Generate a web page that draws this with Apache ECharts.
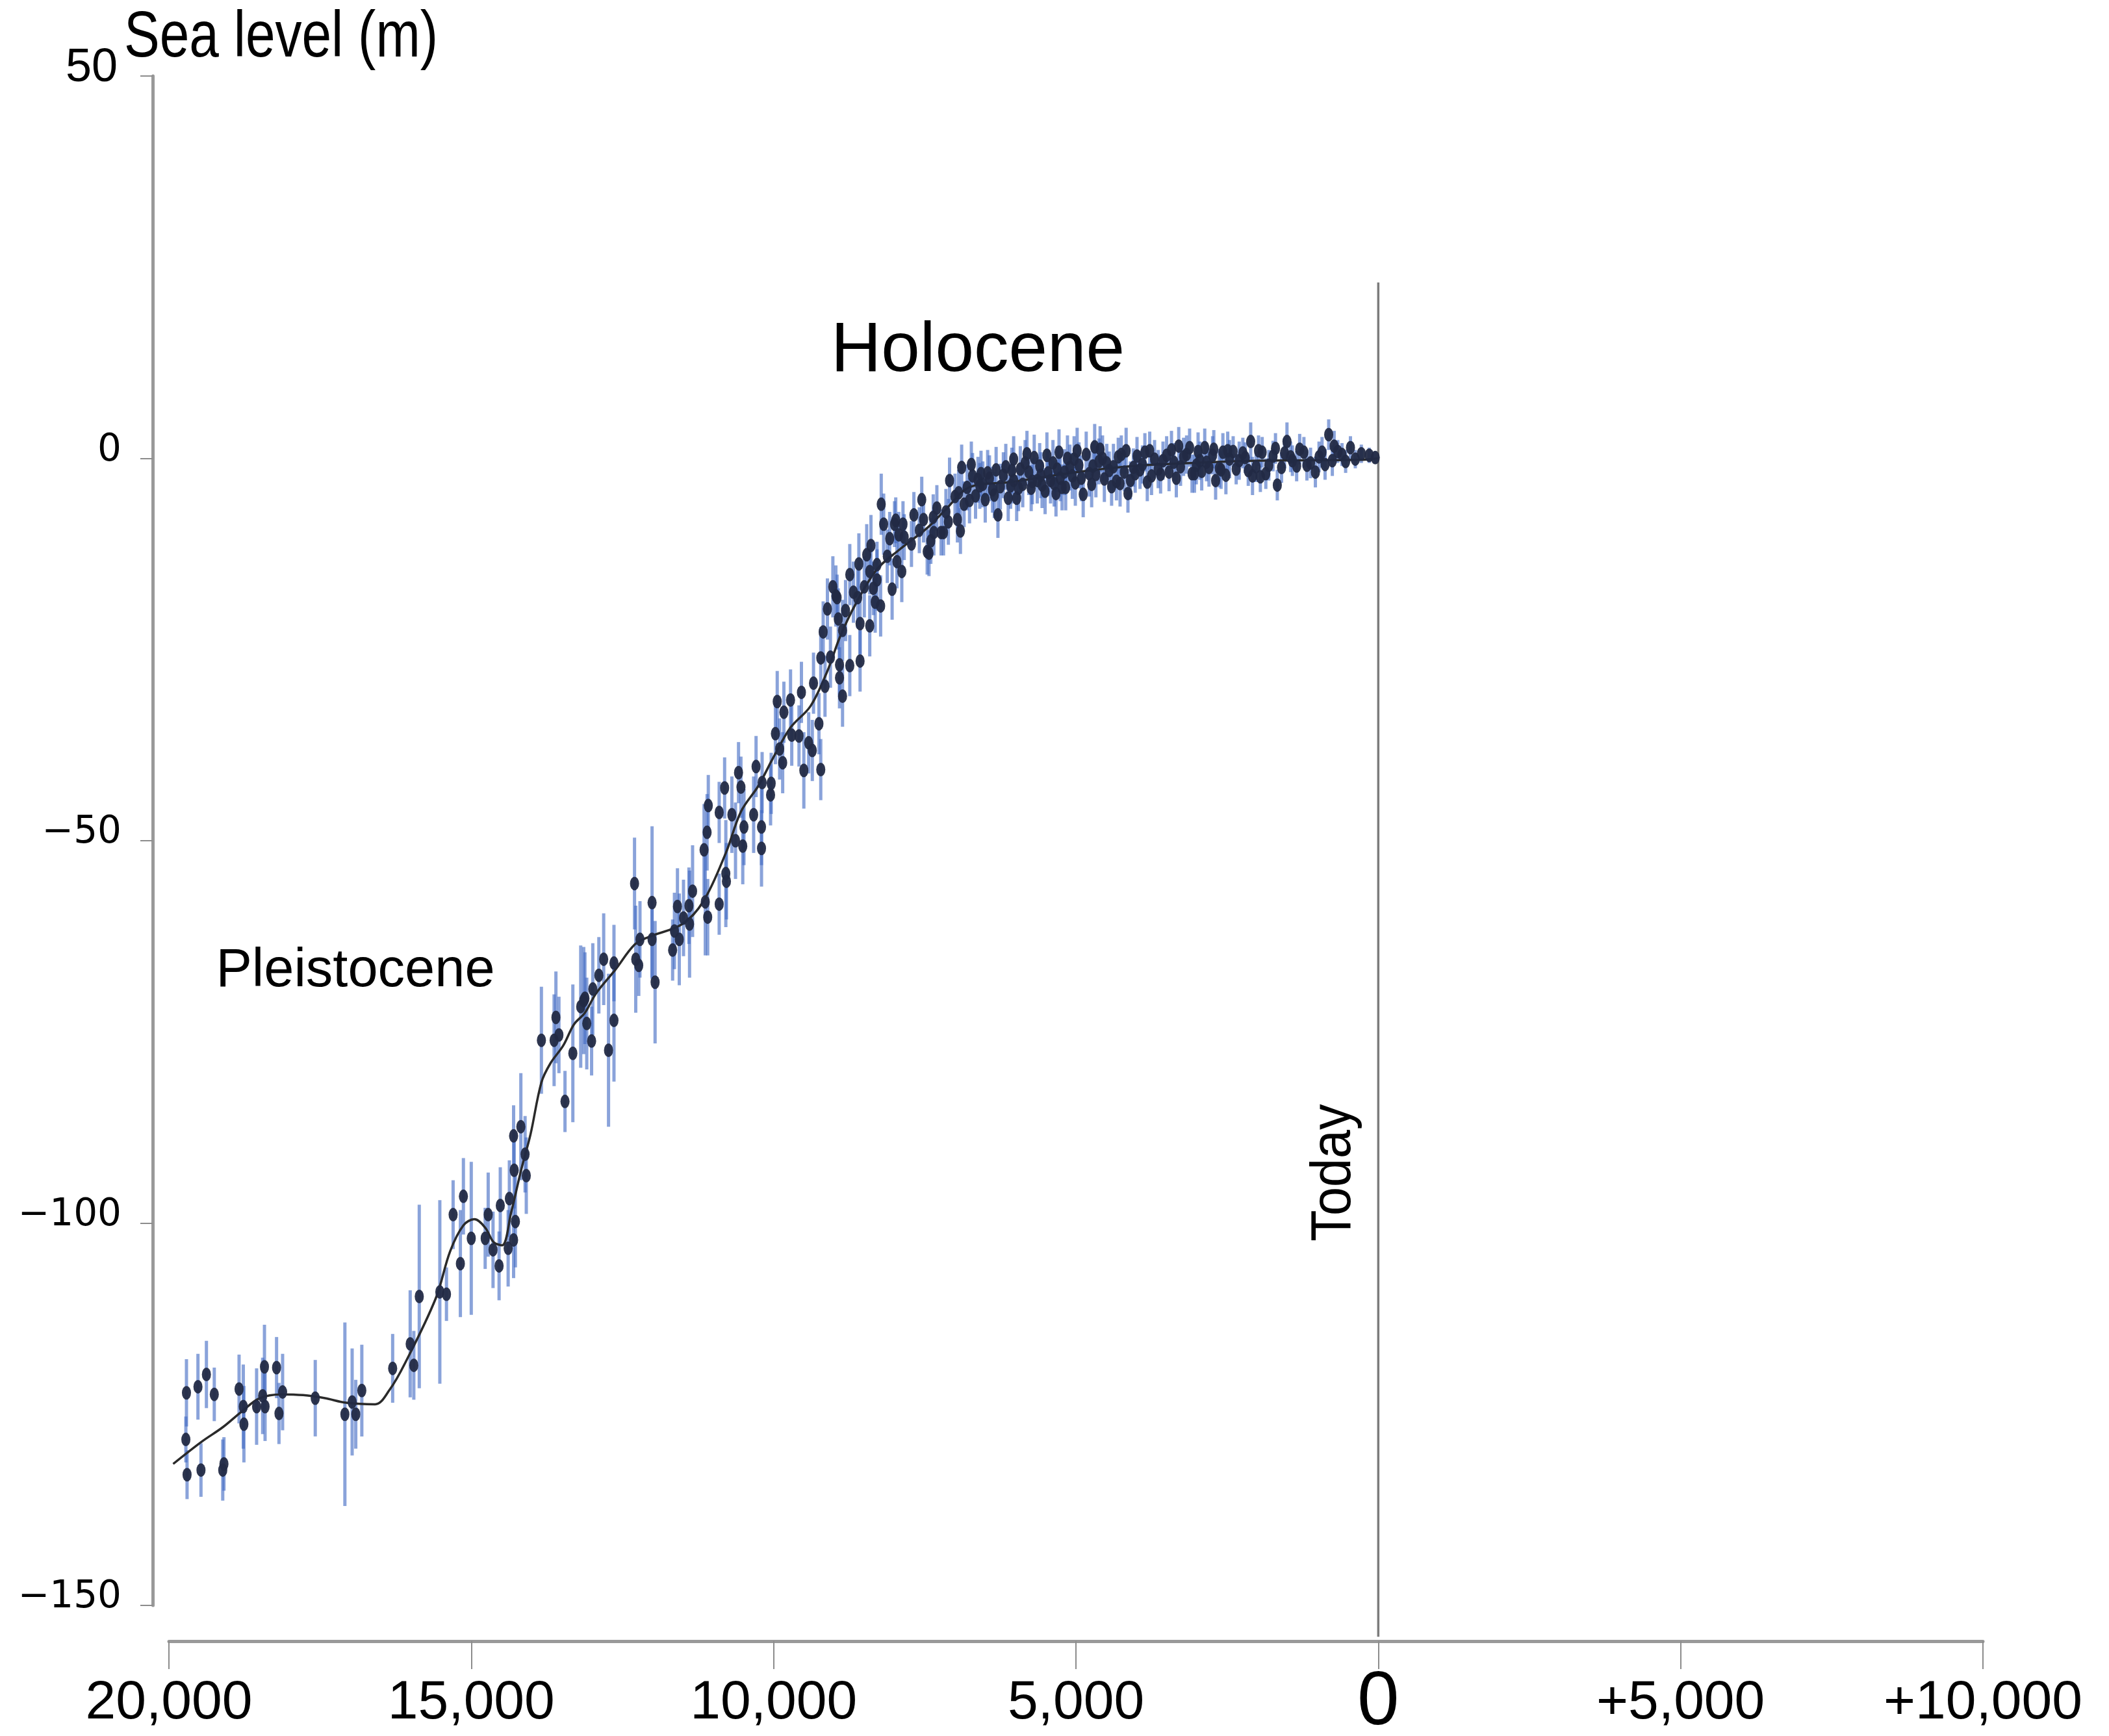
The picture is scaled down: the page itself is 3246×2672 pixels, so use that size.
<!DOCTYPE html>
<html>
<head>
<meta charset="utf-8">
<title>Sea level since the last glacial maximum</title>
<script src="https://cdn.jsdelivr.net/npm/echarts@6/dist/echarts.min.js"></script>
<style>
  html, body { margin: 0; padding: 0; background: #fff; }
  #chart { width: 3246px; height: 2672px; }
</style>
</head>
<body>
<div id="chart"></div>
<script>
// sample ages (years before present), sea level (m) and half error bar (m)
const ages = [
  19720, 19710, 19700, 19520, 19470, 19380, 19250, 19110, 19090, 18840,
  18770, 18760, 18550, 18450, 18420, 18410, 18220, 18180, 18120, 17580,
  17090, 16970, 16910, 16810, 16300, 16010, 15950, 15860, 15520, 15410,
  15300, 15180, 15130, 15000, 14770, 14720, 14640, 14540, 14520, 14390,
  14370, 14300, 14300, 14290, 14270, 14180, 14110, 14090, 13840, 13630,
  13600, 13550, 13450, 13320, 13190, 13140, 13120, 13090, 13010, 12990,
  12890, 12810, 12730, 12640, 12640, 12300, 12280, 12230, 12210, 12010,
  12010, 11960, 11670, 11640, 11590, 11560, 11490, 11400, 11390, 11340,
  11150, 11130, 11100, 11090, 11080, 10900, 10900, 10810, 10790, 10780,
  10690, 10630, 10580, 10540, 10510, 10490, 10330, 10290, 10200, 10200,
  10190, 10050, 10040, 9970, 9940, 9900, 9850, 9830, 9720, 9700,
  9580, 9540, 9500, 9420, 9360, 9340, 9250, 9220, 9220, 9180,
  9150, 9110, 9060, 9020, 8970, 8950, 8930, 8910, 8910, 8860,
  8810, 8740, 8740, 8610, 8590, 8570, 8570, 8500, 8410, 8410,
  8390, 8320, 8290, 8290, 8230, 8220, 8180, 8040, 8000, 7980,
  7930, 7880, 7860, 7840, 7590, 7550, 7460, 7430, 7360, 7350,
  7230, 7190, 7110, 7090, 6910, 6890, 6850, 6710, 6660, 6570,
  6500, 6430, 6320, 6290, 6250, 6120, 6030, 6030, 5980, 5920,
  5780, 5690, 5640, 5510, 5420, 5330, 5310, 5190, 5140, 5030,
  5010, 4880, 4830, 4690, 4670, 4560, 4490, 4410, 4250, 4140,
  4050, 3860, 3750, 3560, 3420, 3340, 3170, 3120, 3010, 2870,
  2800, 2690, 2570, 2460, 2300, 2110, 2080, 1920, 1810, 1670,
  1510, 1420, 1230, 1040, 930, 820, 730, 600, 460, 380,
  150, 50,
  // denser Holocene band
  8860, 8680, 8460, 8350, 8120, 8080, 7960, 7720, 7680, 7520,
  7400, 7300, 7150, 7000, 6960, 6800, 6760, 6620, 6540, 6460,
  6380, 6200, 6160, 6080, 5880, 5840, 5740, 5600, 5560, 5460,
  5380, 5260, 5230, 5100, 5060, 4950, 4780, 4740, 4620, 4530,
  4450, 4330, 4300, 4200, 4100, 3990, 3940, 3820, 3700, 3640,
  3500, 3460, 3270, 3220, 3080, 2950, 2920, 2740, 2630, 2520,
  2400, 2350, 2200, 2020, 1980, 1860, 1740, 1600, 1550, 1350,
  1300, 1120, 980, 880, 670, 540, 280,
  6940, 6730, 6590, 6350, 6060, 5950, 5810, 5720, 5580, 5480,
  5360, 5280, 5170, 4980, 4910, 4720, 4600, 4380, 4270, 4170,
  4020, 3900, 3780, 3600, 3380, 3300, 3040, 2980, 2840, 2720,
  2600, 2490, 2240, 2150, 1950, 1700, 1450, 1180, 760
];
const levels = [
  -128.3, -122.2, -132.9, -121.4, -132.3, -119.8, -122.4, -132.3, -131.5, -121.7,
  -124.0, -126.3, -124.0, -122.6, -118.8, -124.0, -118.9, -124.9, -122.1, -122.9,
  -125.0, -123.4, -125.0, -121.9, -119.0, -115.8, -118.6, -109.6, -109.0, -109.3,
  -98.9, -105.3, -96.5, -102.0, -102.0, -98.9, -103.5, -105.6, -97.7, -103.3,
  -96.8, -88.6, -102.2, -93.1, -99.8, -87.4, -91.0, -93.8, -76.1, -76.1,
  -73.1, -75.4, -84.1, -77.8, -71.7, -70.9, -70.6, -73.9, -76.2, -69.4,
  -67.6, -65.5, -77.4, -73.5, -66.0, -55.6, -65.5, -66.3, -62.9, -58.1,
  -62.9, -68.5, -64.3, -61.8, -58.6, -62.9, -60.1, -58.5, -60.9, -56.6,
  -51.2, -58.0, -48.9, -60.0, -45.4, -58.3, -46.3, -43.1, -54.3, -55.3,
  -46.6, -50.0, -41.1, -43.0, -50.7, -48.2, -46.6, -40.3, -48.2, -51.0,
  -42.4, -44.0, -42.5, -36.0, -31.8, -38.0, -39.8, -33.2, -31.6, -36.2,
  -36.3, -30.6, -40.8, -37.2, -38.2, -29.4, -34.7, -40.7, -26.1, -22.7,
  -29.8, -19.7, -26.0, -16.8, -18.0, -18.2, -21.0, -27.0, -28.7, -31.1,
  -19.9, -15.2, -27.1, -18.2, -13.8, -21.6, -26.5, -16.8, -21.9, -14.8,
  -11.4, -18.8, -15.9, -13.9, -19.3, -6.0, -8.6, -17.1, -8.6, -8.1,
  -10.0, -14.8, -8.6, -10.3, -9.4, -5.4, -12.2, -12.4, -7.7, -9.7,
  -9.7, -9.7, -8.3, -2.9, -9.5, -1.2, -6.0, -2.3, -4.9, -2.0,
  -5.4, -2.6, -1.5, -7.4, -3.7, -5.2, -0.1, -2.9, -5.2, -1.4,
  -1.8, 0.1, -2.9, -4.3, -2.9, -4.6, -1.4, -1.8, 0.0, -0.1,
  -3.2, -4.7, 0.5, 1.5, -2.1, 0.0, -0.6, -3.7, 0.5, -4.6,
  -1.2, 0.8, -2.3, -0.3, 1.1, -2.6, 0.5, 1.4, -0.9, 1.4,
  -1.2, -2.9, 0.8, -0.1, -0.3, 2.2, -2.3, 0.8, -0.9, -3.5,
  2.2, -0.3, 0.8, -1.8, 0.8, 3.1, 1.6, 0.5, 1.4, -0.1,
  0.4, 0.1,
  -22.5, -17.5, -12.6, -17.0, -12.8, -10.5, -13.5, -11.2, -7.4, -8.0,
  -10.8, -6.5, -7.0, -5.0, -8.0, -3.8, -5.5, -2.8, -3.4, -1.9,
  -4.1, -2.2, -1.1, -3.6, -3.4, -0.6, -3.9, -1.0, -3.5, -1.9,
  -0.6, -2.6, -3.8, -1.2, -2.3, -0.9, -2.0, -3.4, -0.4, -2.7,
  -1.6, -3.0, 0.2, -1.8, -2.9, 0.3, -1.5, -3.1, -0.1, -1.4,
  0.4, -1.8, -1.1, 0.2, -2.0, -0.3, -1.7, 0.4, -1.3, -2.2,
  0.9, -1.4, 0.1, -1.1, 1.0, -2.0, 0.3, -1.2, 0.7, -1.0,
  1.2, -0.6, 0.2, -0.8, 0.9, -0.4, 0.6,
  -4.5, -0.8, -3.6, -4.8, -1.6, -3.9, 0.6, -3.0, -2.2, 0.4,
  -3.3, 0.8, -3.8, 1.0, -2.6, -1.0, 1.2, -1.1, -3.3, 1.0,
  -2.0, -0.8, 1.0, -2.1, -0.5, 1.6, -2.0, 0.9, -0.5, 1.2,
  -1.5, 1.0, 0.7, -1.6, -2.4, 1.3, 0.2, -0.9, -0.3
];
const errors = [
  3, 4.4, 3.2, 4.3, 3.5, 4.4, 3.5, 4, 3.5, 4.5,
  5.5, 5, 5, 5, 5.5, 4.5, 4, 4, 5, 5,
  12, 7, 4.5, 6, 4.5, 7, 4.5, 12, 12, 3.5,
  4.5, 7, 5, 10, 4, 5.5, 5, 4.5, 5, 5,
  5, 4, 5, 5, 6, 7, 5, 5, 7, 6,
  6, 5, 4, 9, 8, 7, 6, 6, 4.5, 6,
  5, 6, 10, 8, 5, 6, 7, 4, 5, 10,
  5, 8, 4, 5, 5, 6, 5, 5, 7, 6,
  6, 7, 5, 5, 4, 4, 4, 4, 7, 5,
  5, 5, 4, 4, 5, 5, 5, 4, 5, 5,
  4, 4, 4, 4, 4, 4, 4, 4, 4, 4,
  4, 4, 5, 4, 4, 4, 4, 4, 4, 4,
  4, 4, 4, 4, 4, 3, 4, 4, 4, 4,
  4, 4, 4, 4, 4, 4, 4, 4, 4, 3,
  4, 4, 4, 3, 4, 4, 4, 4, 3, 3,
  3, 4, 3, 3, 3, 3, 3, 3, 3, 3,
  3, 3, 3, 3, 3, 3, 3, 3, 3, 3,
  3, 3, 3, 3, 3, 3, 3, 3, 3, 3,
  3, 3, 3, 3, 3, 3, 3, 3, 3, 3,
  3, 3, 3, 3, 3, 3, 2.5, 2.5, 2.5, 2.5,
  2.5, 2.5, 2.5, 2.5, 2.5, 2.5, 2.5, 2.5, 2.5, 2.5,
  2.5, 2.5, 2.5, 2.5, 2.5, 2.5, 2.5, 2, 2, 2,
  2.5, 2, 2, 2, 2, 2, 2, 1.5, 1.5, 1.2,
  1, 0.8,
  4, 4, 4, 3.5, 3.5, 3.5, 3.5, 3, 3, 3,
  3, 3, 3, 3, 3, 3, 3, 3, 3, 3,
  3, 3, 3, 3, 3, 3, 3, 3, 3, 3,
  3, 3, 3, 3, 3, 3, 3, 3, 3, 3,
  2.5, 2.5, 2.5, 2.5, 2.5, 2.5, 2.5, 2.5, 2.5, 2.5,
  2.5, 2.5, 2.5, 2.5, 2.5, 2.5, 2.5, 2.5, 2.5, 2.5,
  2, 2, 2, 2, 2, 2, 2, 2, 2, 2,
  2, 2, 2, 2, 1.5, 1.5, 1.2,
  3, 3, 3, 3, 3, 3, 3, 3, 3, 3,
  3, 3, 3, 3, 3, 3, 3, 3, 3, 3,
  2.5, 2.5, 2.5, 2.5, 2.5, 2.5, 2.5, 2.5, 2.5, 2.5,
  2.5, 2.5, 2, 2, 2, 2, 2, 2, 2
];

// fitted curve
const curveAges = [
  19930, 19460, 19110, 18790, 18500, 18140, 17780, 17420, 17070, 16590,
  16350, 16100, 15590, 15350, 15130, 14950, 14770, 14630, 14490, 14340,
  14170, 14020, 13840, 13690, 13480, 13300, 13120, 12940, 12620, 12300,
  12070, 11510, 11160, 10790, 10540, 10250, 10010, 9720, 9390, 9110,
  8900, 8640, 8290, 7930, 7460, 7180, 6740, 6080, 4990, 4050,
  3060, 1970, 320, 0
];
const curveLevels = [
  -131.5, -128.6, -126.7, -124.6, -122.9, -122.4, -122.5, -122.9, -123.5, -123.7,
  -121.8, -118.4, -109.9, -103.7, -100.3, -99.5, -100.6, -102.5, -102.9, -98.6,
  -92.9, -88.4, -81.6, -79.1, -76.8, -74.0, -72.5, -70.0, -66.9, -63.6,
  -62.6, -60.9, -57.9, -51.6, -46.2, -42.8, -39.2, -35.2, -32.4, -27.8,
  -23.3, -19.0, -14.5, -12.0, -9.1, -6.9, -3.7, -3.1, -1.8, -1.0,
  -0.6, -0.3, -0.2, 0
];

// axes: x runs from 20,000 years ago to 10,000 years ahead
const xTickLabels = ['20,000', '15,000', '10,000', '5,000', '0', '+5,000', '+10,000'];
const yTickLabels = ['\u2212150', '\u2212100', '\u221250', '0', '50'];
// "Today" marker: year 0, from +23 m down to the time axis
const todayLine = [[0, 23, -154.1]];

const chart = echarts.init(document.getElementById('chart'));

const points = ages.map((a, i) => [-a, levels[i]]);
const bars = ages.map((a, i) => [-a, levels[i] - errors[i], levels[i] + errors[i]]);
const curve = curveAges.map((a, i) => [-a, curveLevels[i]]);

function vLine(color, width) {
  return (params, api) => {
    const p1 = api.coord([api.value(0), api.value(1)]);
    const p2 = api.coord([api.value(0), api.value(2)]);
    return {
      type: 'line',
      shape: { x1: p1[0], y1: p1[1], x2: p2[0], y2: p2[1] },
      style: { stroke: color, lineWidth: width }
    };
  };
}

const option = {
  animation: false,
  backgroundColor: '#fff',
  grid: { left: 260, right: 194, top: 117, bottom: 201, outerBoundsMode: 'none' },
  xAxis: {
    type: 'value',
    min: -20000,
    max: 10000,
    interval: 5000,
    offset: 55,
    splitLine: { show: false },
    axisLine: { onZero: false, lineStyle: { color: '#999', width: 5 } },
    axisTick: { length: 43, lineStyle: { color: '#8c8c8c', width: 2 } },
    axisLabel: {
      margin: 54,
      color: '#000',
      fontFamily: 'Liberation Sans',
      fontSize: 84,
      formatter: (v) => {
        const lab = xTickLabels[Math.round((v + 20000) / 5000)];
        return lab === '0' ? '{zero|0}' : lab;
      },
      rich: {
        zero: { fontFamily: 'Liberation Sans', fontSize: 116, lineHeight: 84, color: '#000' }
      }
    }
  },
  yAxis: {
    type: 'value',
    min: -150,
    max: 50,
    interval: 50,
    offset: 25,
    splitLine: { show: false },
    axisLine: { onZero: false, lineStyle: { color: '#999', width: 5 } },
    axisTick: { length: 19, lineStyle: { color: '#8c8c8c', width: 2 } },
    axisLabel: {
      margin: 48,
      color: '#000',
      fontFamily: 'DejaVu Sans',
      fontSize: 58,
      padding: [0, 0, 24, 0],
      formatter: (v) => {
        const lab = yTickLabels[Math.round((v + 150) / 50)];
        return v === 50 ? '{top|' + lab + '}' : lab;
      },
      rich: {
        top: { fontFamily: 'Liberation Sans', fontSize: 72, color: '#000', padding: [0, 6, 0, 0] }
      }
    }
  },
  series: [
    {
      name: 'today',
      type: 'custom',
      data: todayLine,
      encode: { x: 0, y: [1, 2] },
      silent: true,
      z: 0,
      renderItem: vLine('#7c7c7c', 3.5)
    },
    {
      name: 'error',
      type: 'custom',
      data: bars,
      encode: { x: 0, y: [1, 2] },
      silent: true,
      z: 1,
      renderItem: vLine('rgba(66, 106, 196, 0.62)', 5)
    },
    {
      name: 'curve',
      type: 'line',
      data: curve,
      smooth: 0.35,
      showSymbol: false,
      silent: true,
      z: 2,
      lineStyle: { color: '#2a2a2a', width: 3.5 }
    },
    {
      name: 'samples',
      type: 'scatter',
      data: points,
      symbol: 'circle',
      symbolSize: [14, 21],
      z: 3,
      itemStyle: { color: '#222a44', opacity: 0.95 }
    }
  ],
  graphic: [
    {
      type: 'text', x: 191, y: 59, scaleX: 0.82,
      style: { text: 'Sea level (m)', fontFamily: 'Liberation Sans', fontSize: 100, fill: '#000',
        textAlign: 'left', textVerticalAlign: 'middle' }
    },
    {
      type: 'text', x: 1505, y: 541,
      style: { text: 'Holocene', fontFamily: 'Liberation Sans', fontSize: 107, fill: '#000',
        textAlign: 'center', textVerticalAlign: 'middle' }
    },
    {
      type: 'text', x: 547, y: 1495,
      style: { text: 'Pleistocene', fontFamily: 'Liberation Sans', fontSize: 83, fill: '#000',
        textAlign: 'center', textVerticalAlign: 'middle' }
    },
    {
      type: 'text', x: 2054, y: 1805, rotation: Math.PI / 2, scaleX: 0.9,
      style: { text: 'Today', fontFamily: 'Liberation Sans', fontSize: 88, fill: '#000',
        textAlign: 'center', textVerticalAlign: 'middle' }
    }
  ]
};

chart.setOption(option);
</script>
</body>
</html>
